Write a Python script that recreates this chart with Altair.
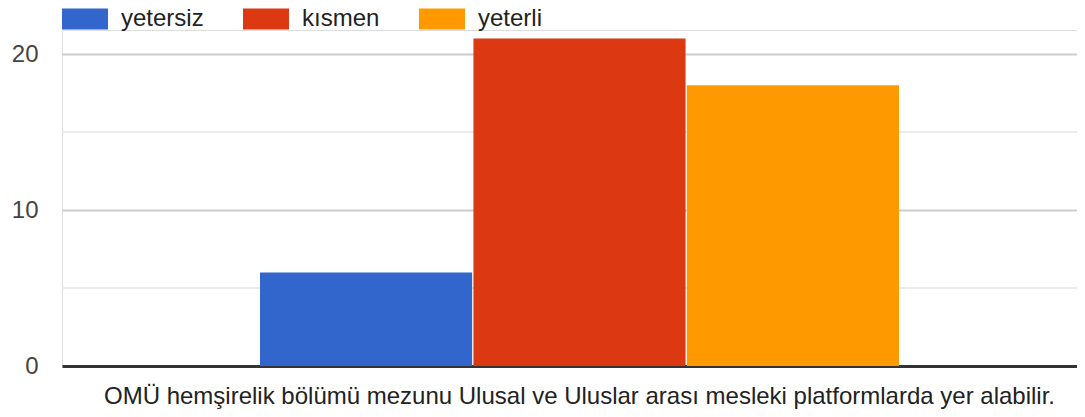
import altair as alt
import pandas as pd

category = "OMÜ hemşirelik bölümü mezunu Ulusal ve Uluslar arası mesleki platformlarda yer alabilir."
series = ["yetersiz", "kısmen", "yeterli"]
values = [6, 21, 18]
colors = ["#3366cc", "#dc3912", "#ff9900"]
major_ticks = [0, 10, 20]
minor_ticks = [5, 15]

df = pd.DataFrame({"cat": [category] * 3, "series": series, "value": values})
minor_df = pd.DataFrame({"v": minor_ticks})

FONT = "Liberation Sans"
W, H = 1015, 336
ydom = [0, 21.54]

minor = alt.Chart(minor_df).mark_rule(color="#ebebeb", strokeWidth=2).encode(
    y=alt.Y("v:Q", scale=alt.Scale(domain=ydom, nice=False))
)

bars = alt.Chart(df).mark_bar().encode(
    x=alt.X(
        "cat:N",
        title=None,
        scale=alt.Scale(paddingInner=0, paddingOuter=0.2942, align=0.5266, round=False),
        axis=alt.Axis(
            labelAngle=0, labelFontSize=24, labelColor="#222222", labelFont=FONT,
            labelLimit=2000, labelPadding=18, ticks=False, domainColor="#333333",
            domainWidth=3, grid=False,
        ),
    ),
    xOffset=alt.XOffset(
        "series:N", sort=series,
        scale=alt.Scale(paddingInner=0.006, paddingOuter=0, round=False),
    ),
    y=alt.Y(
        "value:Q",
        title=None,
        scale=alt.Scale(domain=ydom, nice=False),
        axis=alt.Axis(
            values=major_ticks, labelFontSize=24, labelColor="#444444", labelFont=FONT,
            labelPadding=24, ticks=False, domain=False, gridColor="#cccccc", gridWidth=2,
        ),
    ),
    color=alt.Color(
        "series:N",
        sort=series,
        scale=alt.Scale(domain=series, range=colors),
        legend=alt.Legend(
            title=None, orient="none", direction="horizontal", legendX=0, legendY=-34,
            symbolType="M-1,-0.4565H1V0.4565H-1Z", symbolSize=2116, symbolStrokeWidth=0,
            symbolOpacity=1, labelFontSize=24, labelFont=FONT, labelColor="#222222",
            labelOffset=13, columnPadding=39, padding=0,
        ),
    ),
)

chart = alt.layer(minor, bars).properties(
    width=W, height=H,
    autosize=alt.AutoSizeParams(type="none"),
    padding={"left": 54, "top": 22, "right": 0, "bottom": 43},
).configure_view(stroke=None).configure(background="white")

chart.save("out.html", embed_options={"renderer": "svg", "actions": False})
